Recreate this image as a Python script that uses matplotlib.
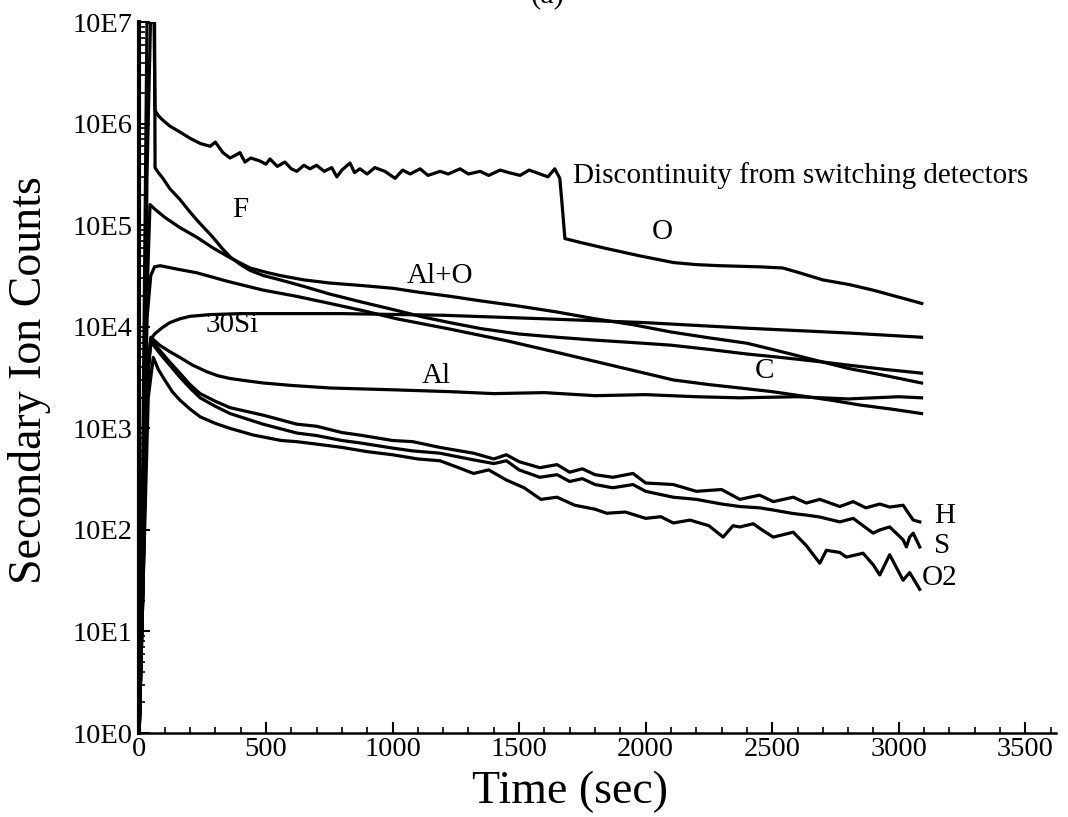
import matplotlib
matplotlib.use("Agg")
import matplotlib.pyplot as plt
from matplotlib.ticker import LogLocator, NullFormatter, MultipleLocator

plt.rcParams['font.family'] = ['Liberation Serif', 'DejaVu Serif']

# ---- data (time in sec, secondary ion counts) ----
t_O = [0, 12, 30, 58, 62, 75, 90, 120, 160, 200, 240, 280, 300, 330, 358, 380, 397, 417,
       440, 476, 500, 516, 545, 575, 600, 622, 650, 674, 700, 730, 760, 780, 800, 832, 850,
       871, 900, 930, 970, 1010, 1040, 1070, 1109, 1140, 1188, 1220, 1267, 1300, 1346,
       1380, 1425, 1460, 1504, 1540, 1583, 1614, 1641, 1661, 1673, 1681, 1740, 1846, 1977,
       2109, 2200, 2294, 2451, 2542, 2609, 2700, 2807, 2898, 3004, 3091]
c_O = [1.5, 200, 1e7, 1e7, 1.35e6, 1.2e6, 1.1e6, 9.5e5, 8.3e5, 7.2e5, 6.4e5, 6.0e5, 6.6e5,
       5.2e5, 4.6e5, 4.9e5, 5.2e5, 4.2e5, 4.6e5, 4.3e5, 4.0e5, 4.5e5, 3.8e5, 4.2e5, 3.6e5,
       3.4e5, 3.9e5, 3.6e5, 3.9e5, 3.4e5, 3.7e5, 3.0e5, 3.5e5, 4.1e5, 3.3e5, 3.6e5, 3.2e5,
       3.7e5, 3.4e5, 2.9e5, 3.5e5, 3.2e5, 3.6e5, 3.1e5, 3.4e5, 3.2e5, 3.6e5, 3.2e5, 3.4e5,
       3.1e5, 3.5e5, 3.3e5, 3.1e5, 3.5e5, 3.2e5, 3.0e5, 3.6e5, 2.9e5, 1.3e5, 7.4e4, 6.8e4,
       5.9e4, 5.0e4, 4.3e4, 4.1e4, 4.0e4, 3.9e4, 3.8e4, 3.4e4, 2.9e4, 2.6e4, 2.3e4, 1.95e4,
       1.7e4]

t_F = [0, 15, 30, 44, 60, 62, 75, 93, 120, 160, 195, 228, 260, 291, 325, 358, 400, 437,
       490, 556, 650, 753, 880, 1017, 1120, 1227, 1350, 1500, 1650, 1800, 1950, 2100, 2250,
       2400, 2500, 2600, 2700, 2800, 2950, 3090]
c_F = [1.2, 50, 3e5, 1e7, 1e7, 3.7e5, 3.3e5, 2.9e5, 2.3e5, 1.8e5, 1.4e5, 1.12e5, 9.2e4,
       7.6e4, 6.0e4, 4.9e4, 4.1e4, 3.6e4, 3.2e4, 2.9e4, 2.5e4, 2.1e4, 1.75e4, 1.45e4,
       1.25e4, 1.1e4, 9.6e3, 8.5e3, 7.9e3, 7.4e3, 7.0e3, 6.6e3, 6.0e3, 5.4e3, 5.1e3, 4.8e3,
       4.5e3, 4.2e3, 3.8e3, 3.5e3]

t_AlO = [0, 15, 30, 42, 60, 100, 160, 228, 290, 358, 437, 500, 556, 650, 753, 880, 1000,
         1100, 1227, 1350, 1500, 1650, 1800, 1950, 2100, 2250, 2400, 2500, 2600, 2700,
         2800, 2950, 3090]
c_AlO = [1.2, 30, 2e4, 1.6e5, 1.45e5, 1.2e5, 9.5e4, 7.6e4, 6.0e4, 4.8e4, 3.8e4, 3.45e4,
         3.2e4, 2.9e4, 2.7e4, 2.55e4, 2.4e4, 2.2e4, 2.0e4, 1.8e4, 1.6e4, 1.4e4, 1.2e4,
         1.05e4, 8.9e3, 7.8e3, 6.9e3, 6.0e3, 5.2e3, 4.5e3, 3.9e3, 3.3e3, 2.8e3]

t_Si30 = [0, 15, 30, 45, 60, 90, 120, 160, 200, 280, 400, 800, 1200, 1600, 2000, 2400,
          2800, 3090]
c_Si30 = [1.2, 40, 3e3, 7.5e3, 8.5e3, 9.8e3, 1.1e4, 1.2e4, 1.27e4, 1.32e4, 1.35e4, 1.35e4,
          1.3e4, 1.2e4, 1.1e4, 9.7e3, 8.7e3, 7.9e3]

t_C = [0, 15, 30, 45, 60, 82, 150, 228, 350, 489, 620, 753, 880, 1017, 1120, 1227, 1450,
       1650, 1880, 2109, 2250, 2372, 2500, 2609, 2730, 2846, 2970, 3090]
c_C = [1.2, 60, 1.2e4, 3.2e4, 3.9e4, 4.0e4, 3.7e4, 3.4e4, 2.8e4, 2.3e4, 2.0e4, 1.7e4,
       1.45e4, 1.2e4, 1.07e4, 9.5e3, 7.3e3, 5.6e3, 4.1e3, 3.0e3, 2.7e3, 2.5e3, 2.3e3,
       2.1e3, 1.9e3, 1.7e3, 1.55e3, 1.4e3]

t_Al = [0, 15, 30, 45, 80, 120, 160, 210, 268, 310, 358, 420, 489, 600, 753, 1000, 1227,
        1400, 1600, 1800, 2000, 2200, 2372, 2600, 2800, 3000, 3090]
c_Al = [1.2, 30, 2e3, 7.9e3, 6.6e3, 5.7e3, 5.0e3, 4.2e3, 3.6e3, 3.3e3, 3.1e3, 2.95e3,
        2.8e3, 2.65e3, 2.5e3, 2.4e3, 2.3e3, 2.2e3, 2.25e3, 2.1e3, 2.15e3, 2.05e3, 2.0e3,
        2.05e3, 1.95e3, 2.05e3, 2.0e3]

t_H = [0, 15, 30, 45, 60, 80, 120, 160, 200, 240, 300, 358, 489, 622, 700, 800, 870,
       1000, 1080, 1187, 1250, 1320, 1400, 1450, 1500, 1582, 1650, 1700, 1750, 1800, 1870,
       1950, 2000, 2109, 2200, 2300, 2372, 2450, 2504, 2583, 2635, 2688, 2767, 2820, 2870,
       2925, 2964, 3017, 3057, 3083]
c_H = [1.2, 40, 3e3, 7.5e3, 6.8e3, 5.9e3, 4.5e3, 3.5e3, 2.7e3, 2.2e3, 1.85e3, 1.6e3,
       1.35e3, 1.1e3, 1.05e3, 9.1e2, 8.6e2, 7.6e2, 7.4e2, 6.5e2, 6.1e2, 5.7e2, 5.0e2,
       5.5e2, 4.7e2, 4.1e2, 4.4e2, 3.7e2, 4.0e2, 3.5e2, 3.3e2, 3.6e2, 2.9e2, 2.8e2, 2.4e2,
       2.5e2, 2.0e2, 2.2e2, 1.9e2, 2.1e2, 1.84e2, 2.0e2, 1.7e2, 1.9e2, 1.65e2, 1.8e2,
       1.68e2, 1.75e2, 1.25e2, 1.2e2]

t_S = [0, 15, 30, 45, 60, 80, 120, 160, 200, 240, 300, 358, 489, 622, 700, 800, 870,
       1000, 1080, 1187, 1250, 1320, 1400, 1450, 1500, 1582, 1650, 1700, 1750, 1800, 1870,
       1950, 2000, 2109, 2200, 2300, 2372, 2450, 2504, 2583, 2635, 2688, 2767, 2820, 2870,
       2899, 2925, 2964, 3017, 3030, 3043, 3057, 3083]
c_S = [1.2, 40, 3e3, 7e3, 6.4e3, 5.5e3, 4.2e3, 3.2e3, 2.5e3, 2.0e3, 1.65e3, 1.4e3, 1.1e3,
       9.0e2, 8.5e2, 7.6e2, 7.2e2, 6.4e2, 6.0e2, 5.7e2, 5.3e2, 4.9e2, 4.5e2, 4.8e2, 3.9e2,
       3.3e2, 3.5e2, 3.0e2, 3.2e2, 2.8e2, 2.6e2, 2.8e2, 2.4e2, 2.1e2, 2.0e2, 1.8e2, 1.7e2,
       1.65e2, 1.57e2, 1.45e2, 1.4e2, 1.34e2, 1.2e2, 1.3e2, 1.05e2, 93, 1.0e2, 1.07e2, 80,
       68, 85, 93, 68]

t_O2 = [0, 15, 35, 55, 75, 100, 130, 160, 200, 240, 300, 358, 450, 560, 622, 700, 800,
        900, 1000, 1100, 1187, 1250, 1320, 1380, 1450, 1520, 1586, 1650, 1720, 1800, 1846,
        1920, 2000, 2060, 2109, 2175, 2250, 2306, 2345, 2372, 2425, 2460, 2504, 2583, 2635,
        2688, 2714, 2767, 2793, 2859, 2900, 2925, 2964, 3017, 3043, 3083]
c_O2 = [1.2, 30, 2e3, 5e3, 3.8e3, 3.0e3, 2.3e3, 1.9e3, 1.55e3, 1.3e3, 1.12e3, 1.0e3,
        8.6e2, 7.6e2, 7.4e2, 7.0e2, 6.5e2, 5.9e2, 5.5e2, 5.0e2, 4.8e2, 4.2e2, 3.6e2, 3.9e2,
        3.1e2, 2.6e2, 2.0e2, 2.1e2, 1.75e2, 1.6e2, 1.46e2, 1.5e2, 1.3e2, 1.35e2, 1.17e2,
        1.25e2, 1.1e2, 85, 1.1e2, 1.07e2, 1.15e2, 1.0e2, 85, 95, 70, 47, 63, 60, 54, 59, 45,
        36, 57, 32, 38, 26]

series = [(t_O, c_O), (t_F, c_F), (t_AlO, c_AlO), (t_Si30, c_Si30), (t_C, c_C),
          (t_Al, c_Al), (t_H, c_H), (t_S, c_S), (t_O2, c_O2)]

# curve labels: (text, time, counts, horizontal alignment)
labels = [("F", 397, 1.4e5, "center"), ("Al+O", 1187, 3.2e4, "center"),
          ("30Si", 366, 1.05e4, "center"), ("Al", 1171, 3.3e3, "center"),
          ("C", 2471, 3.7e3, "center"), ("O", 2064, 8.5e4, "center"),
          ("Discontinuity from switching detectors", 1713, 3.1e5, "left"),
          ("H", 3141, 137, "left"), ("S", 3141, 69, "left"), ("O2", 3091, 33.5, "left")]

y_ticks = [1, 1e1, 1e2, 1e3, 1e4, 1e5, 1e6, 1e7]
y_tick_labels = ["10E0", "10E1", "10E2", "10E3", "10E4", "10E5", "10E6", "10E7"]
x_ticks = [0, 500, 1000, 1500, 2000, 2500, 3000, 3500]

fig = plt.figure(figsize=(10.68, 8.17), dpi=100)
ax = fig.add_axes([0.1305, 0.1028, 0.858, 0.870])

for t, c in series:
    ax.plot(t, c, color="black", lw=2.3)

ax.set_yscale("log")
ax.set_ylim(1, 1e7)
ax.set_xlim(0, 3620)

ax.set_yticks(y_ticks)
ax.set_yticklabels(y_tick_labels)
ax.yaxis.set_minor_locator(LogLocator(base=10, subs=range(2, 10), numticks=20))
ax.yaxis.set_minor_formatter(NullFormatter())
ax.set_xticks(x_ticks)
ax.xaxis.set_minor_locator(MultipleLocator(100))

ax.tick_params(axis="both", which="major", direction="in", length=8, width=1.5,
               labelsize=20.5, colors="black")
ax.tick_params(axis="y", which="major", pad=5)
ax.tick_params(axis="x", which="major", pad=3)
ax.tick_params(axis="both", which="minor", direction="in", length=4, width=1.2)

for side in ["top", "right"]:
    ax.spines[side].set_visible(False)
ax.spines["left"].set_linewidth(3)
ax.spines["bottom"].set_linewidth(1.8)

for txt, x, y, ha in labels:
    ax.text(x, y, txt, fontsize=21, ha=ha, va="center")

fig.text(30 / 1068, 1 - 380 / 817, "Secondary Ion Counts", rotation=90, fontsize=33,
         ha="center", va="center")
fig.text(570 / 1068, 1 - 792 / 817, "Time (sec)", fontsize=33, ha="center", va="center")
# panel title, cut off at the top edge as in the scanned figure
fig.text(548 / 1068, 1 - 2 / 817, "(a)", fontsize=22, ha="center", va="baseline")

fig.savefig("out.png", dpi=100)
